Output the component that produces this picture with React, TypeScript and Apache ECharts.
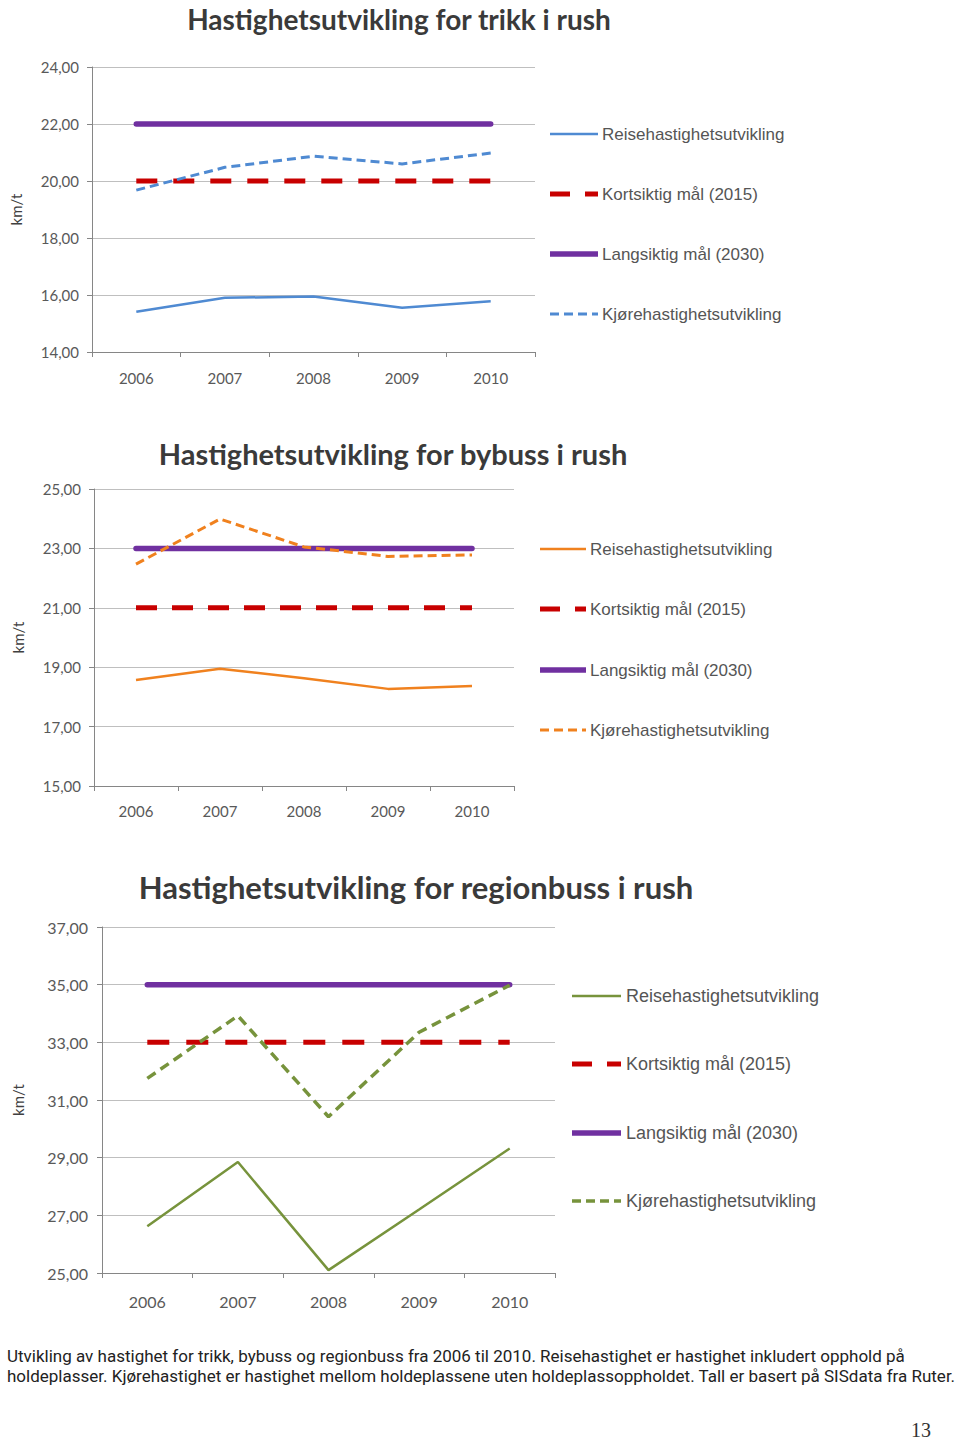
import React, { useEffect, useRef } from "react";
import * as echarts from "echarts";

const years = ["2006", "2007", "2008", "2009", "2010"];

const legendNames = [
  "Reisehastighetsutvikling",
  "Kortsiktig mål (2015)",
  "Langsiktig mål (2030)",
  "Kjørehastighetsutvikling",
];

const titles = [
  "Hastighetsutvikling for trikk i rush",
  "Hastighetsutvikling for bybuss i rush",
  "Hastighetsutvikling for regionbuss i rush",
];

// Trikk
const trikkReise = [15.41, 15.9, 15.95, 15.55, 15.78];
const trikkKort = [20, 20, 20, 20, 20];
const trikkLang = [22, 22, 22, 22, 22];
const trikkKjore = [19.68, 20.48, 20.87, 20.6, 20.98];

// Bybuss
const bybussReise = [18.57, 18.95, 18.63, 18.27, 18.37];
const bybussKort = [21, 21, 21, 21, 21];
const bybussLang = [23, 23, 23, 23, 23];
const bybussKjore = [22.47, 23.99, 23.05, 22.73, 22.78];

// Regionbuss
const regionReise = [26.62, 28.85, 25.1, 27.2, 29.32];
const regionKort = [33, 33, 33, 33, 33];
const regionLang = [35, 35, 35, 35, 35];
const regionKjore = [31.75, 33.92, 30.42, 33.35, 34.98];

const yMin = [14, 15, 25];
const yMax = [24, 25, 37];
const yStep = [2, 2, 2];

const caption1 =
  "Utvikling av hastighet for trikk, bybuss og regionbuss fra 2006 til 2010. Reisehastighet er hastighet inkludert opphold på";
const caption2 =
  "holdeplasser. Kjørehastighet er hastighet mellom holdeplassene uten holdeplassoppholdet. Tall er basert på SISdata fra Ruter.";

const RED = "#C80000";
const PURPLE = "#7030A0";
const mainColors = ["#4F8AD2", "#F0811E", "#77933C"];

export default function App() {
  const ref = useRef<HTMLDivElement>(null);

  useEffect(() => {
    if (!ref.current) return;
    const chart = echarts.init(ref.current, null, { renderer: "svg" });

    const grids = [
      { left: 92, top: 67, width: 443, height: 285 },
      { left: 94, top: 489, width: 420, height: 297 },
      { left: 102, top: 927, width: 453, height: 346 },
    ];
    const labelSize = [15, 15, 16];
    const xMargin = [18, 17, 20];
    const yMargin = [13, 13, 14];
    const nameGap = [69, 69, 77];

    const data = [
      [trikkReise, trikkKort, trikkLang, trikkKjore],
      [bybussReise, bybussKort, bybussLang, bybussKjore],
      [regionReise, regionKort, regionLang, regionKjore],
    ];
    const kortDash = [
      [21, 16],
      [21, 15],
      [22, 17],
    ];
    const kjoreDash = [
      [9, 5],
      [9, 5],
      [10, 6],
    ];
    const kjoreWidth = [3, 3, 3.5];

    const series: any[] = [];
    data.forEach((d, i) => {
      const c = mainColors[i];
      series.push({
        type: "line",
        name: legendNames[0],
        xAxisIndex: i,
        yAxisIndex: i,
        data: d[0],
        symbol: "none",
        lineStyle: { color: c, width: 2.5 },
      });
      series.push({
        type: "line",
        name: legendNames[1],
        xAxisIndex: i,
        yAxisIndex: i,
        data: d[1],
        symbol: "none",
        lineStyle: { color: RED, width: 5, type: kortDash[i] },
      });
      series.push({
        type: "line",
        name: legendNames[2],
        xAxisIndex: i,
        yAxisIndex: i,
        data: d[2],
        symbol: "none",
        lineStyle: { color: PURPLE, width: 5.5, cap: "round" },
      });
      series.push({
        type: "line",
        name: legendNames[3],
        xAxisIndex: i,
        yAxisIndex: i,
        data: d[3],
        symbol: "none",
        lineStyle: { color: c, width: kjoreWidth[i], type: kjoreDash[i] },
      });
    });

    const graphics: any[] = [];
    const titlePos = [
      { x: 399, y: 18.5, size: 28 },
      { x: 393, y: 453, size: 29 },
      { x: 416, y: 887, size: 31 },
    ];
    titlePos.forEach((t, i) => {
      graphics.push({
        type: "text",
        x: t.x,
        y: t.y,
        style: {
          text: titles[i],
          fill: "#3A3A3A",
          font: `bold ${t.size}px Lato, sans-serif`,
          textAlign: "center",
          textVerticalAlign: "middle",
        },
      });
    });

    const legendPos = [
      { x1: 550, x2: 598, tx: 602, ys: [134, 194, 254, 314], fs: 17 },
      { x1: 540, x2: 586, tx: 590, ys: [549, 609, 670, 730], fs: 17 },
      { x1: 572, x2: 621, tx: 626, ys: [996, 1064, 1133, 1201], fs: 18 },
    ];
    legendPos.forEach((L, i) => {
      const c = mainColors[i];
      const styles = [
        { stroke: c, lineWidth: 2.5 },
        { stroke: RED, lineWidth: 5, lineDash: [20, 15] },
        { stroke: PURPLE, lineWidth: 5.5 },
        { stroke: c, lineWidth: kjoreWidth[i], lineDash: [9, 5] },
      ];
      L.ys.forEach((y, k) => {
        graphics.push({
          type: "line",
          shape: { x1: L.x1, y1: y, x2: L.x2, y2: y },
          style: styles[k],
        });
        graphics.push({
          type: "text",
          x: L.tx,
          y: y,
          style: {
            text: legendNames[k],
            fill: "#555555",
            font: `${L.fs}px "Liberation Sans", Arial, sans-serif`,
            textAlign: "left",
            textVerticalAlign: "middle",
          },
        });
      });
    });

    graphics.push({
      type: "text",
      x: 7,
      y: 1356,
      style: {
        text: caption1,
        fill: "#222222",
        font: '17px Roboto, sans-serif',
        textAlign: "left",
        textVerticalAlign: "middle",
      },
    });
    graphics.push({
      type: "text",
      x: 7,
      y: 1376,
      style: {
        text: caption2,
        fill: "#222222",
        font: '17px Roboto, sans-serif',
        textAlign: "left",
        textVerticalAlign: "middle",
      },
    });
    graphics.push({
      type: "text",
      x: 921,
      y: 1430,
      style: {
        text: "13",
        fill: "#333333",
        font: '20px "Liberation Serif", "DejaVu Serif", serif',
        textAlign: "center",
        textVerticalAlign: "middle",
      },
    });

    const option: any = {
      animation: false,
      backgroundColor: "#ffffff",
      grid: grids,
      xAxis: [0, 1, 2].map((i) => ({
        type: "category",
        gridIndex: i,
        data: years,
        boundaryGap: true,
        axisLine: { show: true, lineStyle: { color: "#868686", width: 1 } },
        axisTick: { show: true, length: 5, interval: 0, lineStyle: { color: "#868686" } },
        axisLabel: {
          color: "#595959",
          fontSize: labelSize[i],
          fontFamily: "Lato, sans-serif",
          margin: xMargin[i],
        },
        splitLine: { show: false },
      })),
      yAxis: [0, 1, 2].map((i) => ({
        type: "value",
        gridIndex: i,
        min: yMin[i],
        max: yMax[i],
        interval: yStep[i],
        name: "km/t",
        nameLocation: "middle",
        nameGap: nameGap[i],
        nameRotate: 90,
        nameTextStyle: { color: "#404040", fontSize: 15, fontFamily: "Lato, sans-serif" },
        axisLine: { show: true, lineStyle: { color: "#868686", width: 1 } },
        axisTick: { show: true, length: 5, lineStyle: { color: "#868686" } },
        axisLabel: {
          color: "#595959",
          fontSize: labelSize[i],
          fontFamily: "Lato, sans-serif",
          margin: yMargin[i],
          formatter: (v: number) => v.toFixed(2).replace(".", ","),
        },
        splitLine: { show: true, lineStyle: { color: "#BFBFBF", width: 1 } },
      })),
      series,
      graphic: { elements: graphics },
    };

    chart.setOption(option);
    return () => chart.dispose();
  }, []);

  return (
    <div
      ref={ref}
      style={{ position: "absolute", left: 0, top: 0, width: 960, height: 1440 }}
    />
  );
}
